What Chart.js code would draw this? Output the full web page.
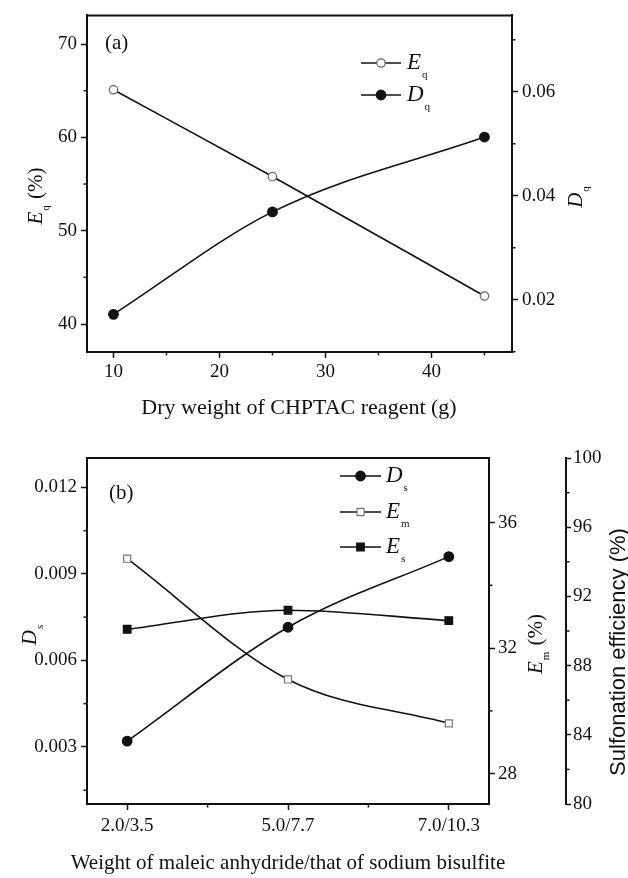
<!DOCTYPE html>
<html>
<head>
<meta charset="utf-8" />
<style>
  html, body { margin: 0; padding: 0; background: #fff; }
  #wrap { position: relative; width: 628px; height: 878px; }
  canvas { position: absolute; left: 0; }
  #chartA { top: 0; }
  #chartB { top: 430px; }
</style>
<script src="https://cdn.jsdelivr.net/npm/chart.js"></script>
</head>
<body>
<div id="wrap">
  <canvas id="chartA" width="628" height="430"></canvas>
  <canvas id="chartB" width="628" height="448"></canvas>
</div>
<script>
// ---- panel (a) data
const dryWeight = [10, 25, 45];
const eqValues = [65.1, 55.8, 43.0];
const dqValues = [0.0172, 0.0369, 0.0513];
const aNames = ['Eq', 'Dq'];
const aXTicks = [10, 20, 30, 40];
const aXMinor = [15, 25, 35, 45];
const aLeftTicks = [40, 50, 60, 70];
const aLeftMinor = [45, 55, 65];
const aRightTicks = [0.02, 0.04, 0.06];
const aRightMinor = [0.01, 0.03, 0.05, 0.07];
const aXTitle = 'Dry weight of CHPTAC reagent (g)';

// ---- panel (b) data
const ratios = ['2.0/3.5', '5.0/7.7', '7.0/10.3'];
const dsValues = [0.0032, 0.00715, 0.0096];
const emValues = [34.85, 31.0, 29.6];
const esValues = [90.1, 91.2, 90.6];
const bNames = ['Ds', 'Em', 'Es'];
const bXMinor = [0.5, 1.5];
const bLeftTicks = [0.003, 0.006, 0.009, 0.012];
const bLeftMinor = [0.0015, 0.0045, 0.0075, 0.0105];
const bEmTicks = [28, 32, 36];
const bEmMinor = [30, 34];
const bSulfTicks = [80, 84, 88, 92, 96, 100];
const bSulfMinor = [82, 86, 90, 94, 98];
const bXTitle = 'Weight of maleic anhydride/that of sodium bisulfite';
const bSulfTitle = 'Sulfonation efficiency (%)';

const SERIF = "'Liberation Serif', 'Times New Roman', serif";
const SANS = "'Liberation Sans', Arial, sans-serif";
const INK = '#111';

function setTicks(values) {
  return (scale) => { scale.ticks = values.map(v => ({ value: v })); };
}

function yAxis(position, min, max, ticks, width, tickLen = 6, pad = 4, weight = 0) {
  return {
    type: 'linear', position, min, max, weight,
    afterBuildTicks: setTicks(ticks),
    afterFit: (s) => { s.width = width; },
    grid: { display: true, drawOnChartArea: false, drawTicks: true, tickLength: tickLen, tickWidth: 1.5, tickColor: INK },
    border: { display: true, color: INK, width: 2 },
    ticks: { color: INK, font: { family: SERIF, size: 19 }, padding: pad, callback: v => String(v) }
  };
}

function xAxis(min, max, ticks, height, labelPad, fmt) {
  return {
    type: 'linear', position: 'bottom', min, max,
    afterBuildTicks: setTicks(ticks),
    afterFit: (s) => { s.height = height; },
    grid: { display: true, drawOnChartArea: false, drawTicks: true, tickLength: 6, tickWidth: 1.5, tickColor: INK },
    border: { display: true, color: INK, width: 2 },
    ticks: { color: INK, font: { family: SERIF, size: 19 }, padding: labelPad, autoSkip: false, maxRotation: 0, callback: fmt }
  };
}

function series(label, xs, ys, axis, style, radius, fill, stroke) {
  return {
    label, yAxisID: axis,
    data: xs.map((x, i) => ({ x, y: ys[i] })),
    borderColor: INK, borderWidth: 1.6,
    tension: 0.4, cubicInterpolationMode: 'monotone',
    pointStyle: style, pointRadius: radius,
    pointBackgroundColor: fill, pointBorderColor: stroke, pointBorderWidth: 1.2
  };
}

// italic letter plus subscript, e.g. "Eq" -> E with subscript q
function richParts(name, size, subSize, subDy, tail) {
  const parts = [
    { t: name[0], f: `italic ${size}px ${SERIF}`, dy: 0 },
    { t: name.slice(1), f: `${subSize}px ${SERIF}`, dy: subDy, dx: 1 }
  ];
  if (tail) parts.push({ t: tail, f: `${size}px ${SERIF}`, dy: 0, dx: 1 });
  return parts;
}

function drawParts(ctx, parts, x, y, rot, centered) {
  ctx.save();
  ctx.translate(x, y);
  if (rot) ctx.rotate(rot);
  ctx.textBaseline = 'middle';
  ctx.textAlign = 'left';
  ctx.fillStyle = INK;
  let w = 0;
  parts.forEach(p => { ctx.font = p.f; w += ctx.measureText(p.t).width + (p.dx || 0); });
  let cx = centered ? -w / 2 : 0;
  parts.forEach(p => {
    ctx.font = p.f;
    cx += p.dx || 0;
    ctx.fillText(p.t, cx, p.dy);
    cx += ctx.measureText(p.t).width;
  });
  ctx.restore();
}

function drawMarker(ctx, ds, x, y) {
  ctx.save();
  ctx.fillStyle = ds.pointBackgroundColor;
  ctx.strokeStyle = ds.pointBorderColor;
  ctx.lineWidth = ds.pointBorderWidth;
  ctx.beginPath();
  if (ds.pointStyle === 'rect') {
    const h = ds.pointRadius * Math.SQRT1_2;
    ctx.rect(x - h, y - h, 2 * h, 2 * h);
  } else {
    ctx.arc(x, y, ds.pointRadius, 0, Math.PI * 2);
  }
  ctx.fill();
  ctx.stroke();
  ctx.restore();
}

const deco = {
  id: 'deco',
  afterDraw(chart, args, o) {
    const ctx = chart.ctx;
    const a = chart.chartArea;
    ctx.save();
    ctx.strokeStyle = INK;
    ctx.lineWidth = 2;
    ctx.beginPath();
    ctx.moveTo(a.left - 1, a.top);
    ctx.lineTo(a.right + 1, a.top);
    ctx.stroke();

    // minor ticks
    ctx.lineWidth = 1.5;
    o.minor.forEach(m => {
      const s = chart.scales[m.id];
      m.values.forEach(v => {
        const p = s.getPixelForValue(v);
        ctx.beginPath();
        if (s.position === 'bottom') { ctx.moveTo(p, s.top); ctx.lineTo(p, s.top + 3.5); }
        else if (s.position === 'left') { ctx.moveTo(s.right, p); ctx.lineTo(s.right - 3.5, p); }
        else { ctx.moveTo(s.left, p); ctx.lineTo(s.left + 3.5, p); }
        ctx.stroke();
      });
    });
    ctx.restore();

    // axis titles
    o.titles.forEach(t => drawParts(ctx, t.parts, t.x, t.y, -Math.PI / 2, true));
    drawParts(ctx, [{ t: o.xTitle.text, f: `${o.xTitle.size}px ${SERIF}`, dy: 0 }], o.xTitle.x, o.xTitle.y, 0, true);

    // panel label
    ctx.save();
    ctx.font = `21px ${SERIF}`;
    ctx.fillStyle = INK;
    ctx.textBaseline = 'middle';
    ctx.fillText(o.panel.text, o.panel.x, o.panel.y);
    ctx.restore();

    // legend
    const L = o.legend;
    chart.data.datasets.forEach((ds, i) => {
      const y = L.y[i];
      ctx.save();
      ctx.strokeStyle = INK;
      ctx.lineWidth = 1.6;
      ctx.beginPath();
      ctx.moveTo(L.x0, y);
      ctx.lineTo(L.x1, y);
      ctx.stroke();
      ctx.restore();
      drawMarker(ctx, ds, (L.x0 + L.x1) / 2, y);
      drawParts(ctx, richParts(ds.label, 23, 11, 12), L.tx, y, 0, false);
    });
  }
};

const common = {
  responsive: false,
  animation: false,
  events: [],
  devicePixelRatio: 1,
  plugins: { legend: { display: false }, tooltip: { enabled: false } }
};

new Chart(document.getElementById('chartA'), {
  type: 'line',
  data: {
    datasets: [
      series(aNames[0], dryWeight, eqValues, 'yL', 'circle', 4.2, '#fff', '#666'),
      series(aNames[1], dryWeight, dqValues, 'yR', 'circle', 4.8, INK, INK)
    ]
  },
  options: Object.assign({}, common, {
    layout: { padding: { top: 14, left: 0, right: 0, bottom: 0 } },
    scales: {
      x: xAxis(7.5, 47.6, aXTicks, 78, 3, v => String(v)),
      yL: yAxis('left', 37, 73.07, aLeftTicks, 87),
      yR: yAxis('right', 0.00995, 0.0747, aRightTicks, 116)
    },
    plugins: Object.assign({}, common.plugins, {
      deco: {
        minor: [
          { id: 'x', values: aXMinor },
          { id: 'yL', values: aLeftMinor },
          { id: 'yR', values: aRightMinor }
        ],
        titles: [
          { x: 36, y: 196, parts: richParts(aNames[0], 21, 11, 10, ' (%)') },
          { x: 576, y: 197, parts: richParts(aNames[1], 21, 11, 10) }
        ],
        xTitle: { text: aXTitle, x: 299, y: 408, size: 22 },
        panel: { text: '(a)', x: 105, y: 43 },
        legend: { x0: 361, x1: 401, tx: 407, y: [63, 95] }
      }
    })
  }),
  plugins: [deco]
});

const ratioIdx = ratios.map((r, i) => i);

new Chart(document.getElementById('chartB'), {
  type: 'line',
  data: {
    datasets: [
      series(bNames[0], ratioIdx, dsValues, 'yL', 'circle', 4.8, INK, INK),
      series(bNames[1], ratioIdx, emValues, 'yEm', 'rect', 5, '#fff', '#777'),
      series(bNames[2], ratioIdx, esValues, 'ySulf', 'rect', 5.4, INK, INK)
    ]
  },
  options: Object.assign({}, common, {
    layout: { padding: { top: 28, left: 0, right: 0, bottom: 0 } },
    scales: {
      x: xAxis(-0.25, 2.25, ratioIdx, 74, 5, v => ratios[v] || ''),
      yL: yAxis('left', 0.00102, 0.01302, bLeftTicks, 87),
      yEm: yAxis('right', 27.03, 38.06, bEmTicks, 77, 6, 3, 0),
      ySulf: yAxis('right', 80, 100, bSulfTicks, 62, 5, 2, 1)
    },
    plugins: Object.assign({}, common.plugins, {
      deco: {
        minor: [
          { id: 'x', values: bXMinor },
          { id: 'yL', values: bLeftMinor },
          { id: 'yEm', values: bEmMinor },
          { id: 'ySulf', values: bSulfMinor }
        ],
        titles: [
          { x: 30, y: 205, parts: richParts(bNames[0], 21, 11, 10) },
          { x: 536, y: 214, parts: richParts(bNames[1], 21, 11, 10, ' (%)') },
          { x: 619, y: 222, parts: [{ t: bSulfTitle, f: `22px ${SANS}`, dy: 0 }] }
        ],
        xTitle: { text: bXTitle, x: 288, y: 433, size: 21 },
        panel: { text: '(b)', x: 109, y: 63 },
        legend: { x0: 340, x1: 381, tx: 386, y: [46, 82, 117] }
      }
    })
  }),
  plugins: [deco]
});
</script>
</body>
</html>
